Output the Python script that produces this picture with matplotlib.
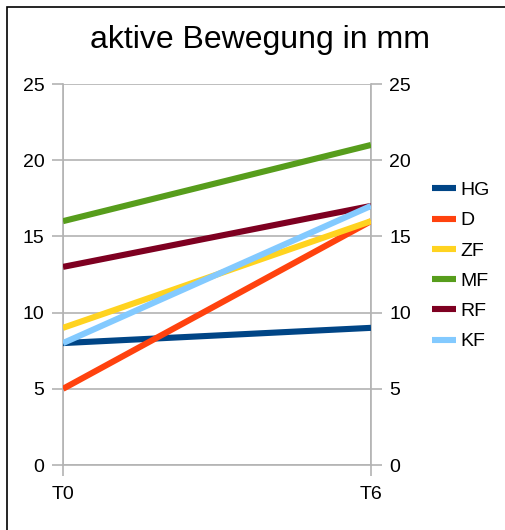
#!/usr/bin/env python3

import matplotlib
matplotlib.use('Agg')
import matplotlib.pyplot as plt
from matplotlib.patches import Rectangle

plt.rcParams['font.family'] = ['Liberation Sans', 'DejaVu Sans']

TITLE = 'aktive Bewegung in mm'
times = ['T0', 'T6']
names = ['HG', 'D', 'ZF', 'MF', 'RF', 'KF']
values = {
    'HG': [8, 9],
    'D': [5, 16],
    'ZF': [9, 16],
    'MF': [16, 21],
    'RF': [13, 17],
    'KF': [8, 17],
}
colors = ['#004586', '#ff420e', '#ffd320', '#579d1c', '#7e0021', '#83caff']
yticks = [0, 5, 10, 15, 20, 25]

W, H = 505, 530
GRID = '#b3b3b3'
FS = 14

fig = plt.figure(figsize=(W / 100, H / 100), dpi=100)
ax = fig.add_axes([63 / W, 1 - 465 / H, (371 - 63) / W, (465 - 84) / H])

x = list(range(len(times)))
for name, color in zip(names, colors):
    ax.plot(x, values[name], color=color, lw=4.4, label=name,
            solid_capstyle='butt', zorder=3)

ax.set_xlim(0, len(times) - 1)
ax.set_ylim(yticks[0], yticks[-1])
ax.set_xticks(x, times)
ax.set_yticks(yticks)
ax.grid(True, color=GRID, lw=1.2)
for side in ['left', 'right', 'bottom']:
    ax.spines[side].set_color(GRID)
    ax.spines[side].set_linewidth(1.2)
ax.spines['top'].set_visible(False)
ax.tick_params(axis='both', colors=GRID, labelcolor='black', labelsize=FS,
               length=8, width=1.2, pad=5.5)
ax.tick_params(axis='x', pad=7)

ax2 = ax.twinx()
ax2.set_ylim(ax.get_ylim())
ax2.set_yticks(yticks)
for side in ['left', 'right', 'bottom', 'top']:
    ax2.spines[side].set_visible(False)
ax2.tick_params(axis='y', colors=GRID, labelcolor='black', labelsize=FS,
                length=8, width=1.2, pad=5)

fig.text(260 / W, 1 - 40 / H, TITLE, fontsize=23, ha='center', va='center')

fig.legend(loc='center left', bbox_to_anchor=(432 / W, 1 - 266 / H),
           frameon=False, fontsize=FS, handlelength=1.24, handleheight=0.7,
           handletextpad=0.2, labelspacing=0.65, borderpad=0,
           borderaxespad=0)

# outer frame: only the left and top edges fall inside the image
fig.patches.append(Rectangle((7 / W, -0.1), 1.2, 1 - 7 / H + 0.1,
                             transform=fig.transFigure, fill=False,
                             ec='black', lw=1.2))

fig.savefig('out.png', dpi=100, facecolor='white')
